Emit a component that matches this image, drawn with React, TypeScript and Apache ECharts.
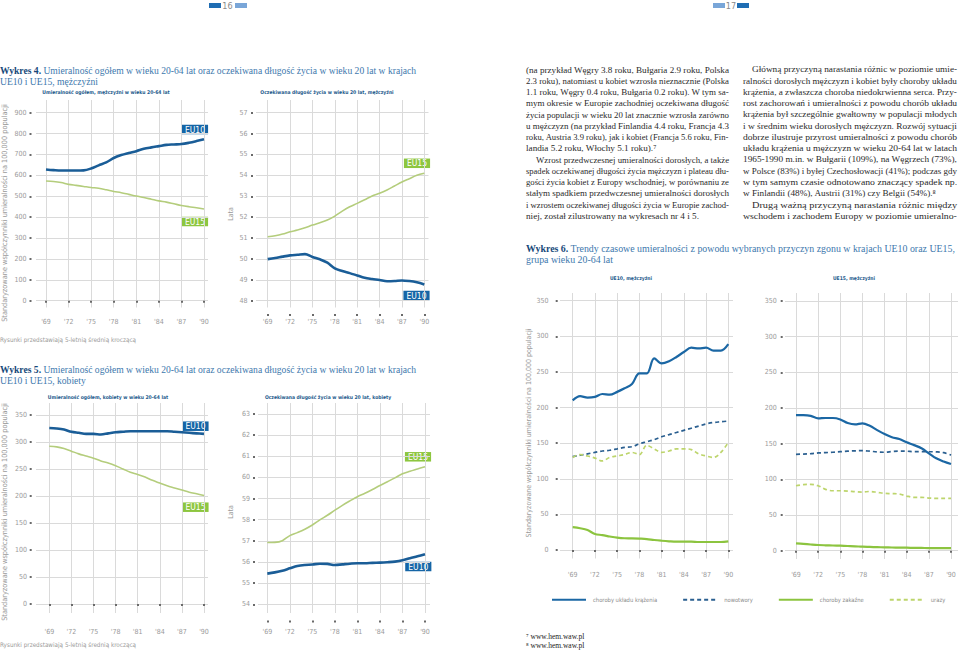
import React, { useEffect, useRef } from "react";
import * as echarts from "echarts";

// ---------- DATA ----------
const years = [1969, 1970, 1971, 1972, 1973, 1974, 1975, 1976, 1977, 1978, 1979, 1980, 1981, 1982, 1983, 1984, 1985, 1986, 1987, 1988, 1989, 1990];
const xTickYears = [1969, 1972, 1975, 1978, 1981, 1984, 1987, 1990];

// Wykres 4 – mężczyźni
const menMortEU10 = [628, 625, 623, 623, 623, 624, 633, 648, 662, 683, 697, 707, 716, 727, 734, 740, 746, 748, 750, 756, 764, 773];
const menMortEU15 = [573, 571, 566, 557, 552, 547, 542, 538, 531, 523, 517, 509, 501, 494, 486, 478, 472, 464, 456, 450, 445, 439];
const menLifeEU15 = [51.06, 51.11, 51.19, 51.3, 51.38, 51.49, 51.62, 51.73, 51.86, 52.05, 52.29, 52.5, 52.66, 52.83, 53.01, 53.14, 53.3, 53.49, 53.68, 53.84, 54.0, 54.1];
const menLifeEU10 = [49.99, 50.04, 50.11, 50.17, 50.2, 50.23, 50.09, 49.98, 49.82, 49.55, 49.42, 49.32, 49.21, 49.1, 49.04, 48.99, 48.93, 48.94, 48.97, 48.94, 48.88, 48.78];

// Wykres 5 – kobiety
const womenMortEU10 = [326, 325, 323, 319, 317, 315, 315, 314, 316, 318, 319, 320, 320, 320, 320, 320, 320, 319, 318, 317, 316, 315];
const womenMortEU15 = [292, 291, 288, 283, 278, 274, 270, 265, 261, 256, 250, 244, 240, 235, 229, 224, 219, 215, 211, 207, 204, 201];
const womenLifeEU15 = [56.92, 56.93, 57.01, 57.25, 57.39, 57.55, 57.75, 57.99, 58.21, 58.45, 58.68, 58.89, 59.09, 59.25, 59.43, 59.62, 59.8, 59.98, 60.17, 60.29, 60.4, 60.51];
const womenLifeEU10 = [55.45, 55.51, 55.59, 55.7, 55.81, 55.86, 55.88, 55.92, 55.91, 55.86, 55.89, 55.92, 55.94, 55.94, 55.96, 55.97, 55.99, 56.02, 56.08, 56.18, 56.27, 56.37];

// Wykres 6 – przyczyny zgonu
const eu10Circ = [210, 216, 214, 215, 219, 218, 222, 227, 233, 248, 248, 269, 262, 265, 271, 278, 284, 283, 284, 280, 280, 289];
const eu10Neo = [131, 133, 135, 137, 139, 140, 142, 144, 145, 149, 152, 155, 159, 162, 165, 168, 171, 174, 177, 179, 180, 181];
const eu10Inf = [32, 30.5, 28, 22.5, 21, 19, 17.3, 16.5, 16.4, 16, 15.4, 14, 13, 12.2, 11.7, 11.7, 11.7, 11.2, 11.2, 11.2, 11.2, 12.2];
const eu10Inj = [130, 134, 132, 129, 125, 130, 132, 134, 137, 134, 147, 142, 137, 139, 142, 142, 141, 135, 132, 130, 137, 151];
const eu15Circ = [190, 190, 189, 185.5, 186, 186, 184, 179, 177, 178.5, 175, 169, 163.5, 159, 156.5, 152, 148, 143.5, 136.5, 129.5, 125, 121.5];
const eu15Neo = [135, 135.5, 136, 137, 137.5, 138, 138.8, 139.5, 140, 140.2, 139.5, 138.5, 138, 139, 139.7, 139.5, 138.8, 139, 138.8, 138.5, 137.4, 134];
const eu15Inf = [10.3, 9.5, 8.7, 8, 7.6, 7.3, 7, 6.6, 6.2, 5.6, 5.3, 5, 4.7, 4.5, 4.4, 4.2, 4, 3.9, 3.7, 3.7, 3.7, 3.7];
const eu15Inj = [91, 92.5, 93, 91, 86, 84, 84, 83.6, 82.7, 82.2, 83, 81.8, 80.4, 80, 79.4, 76.6, 74.8, 74.8, 73.8, 73.4, 73.4, 73.4];

const mortTicksMen = [0, 100, 200, 300, 400, 500, 600, 700, 800, 900];
const lifeTicksMen = [48, 49, 50, 51, 52, 53, 54, 55, 56, 57];
const mortTicksWomen = [0, 50, 100, 150, 200, 250, 300, 350];
const lifeTicksWomen = [54, 55, 56, 57, 58, 59, 60, 61, 62, 63];
const causeTicks = [0, 50, 100, 150, 200, 250, 300, 350];

const causeNames = ["choroby układu krążenia", "nowotwory", "choroby zakaźne", "urazy"];

// ---------- STYLE ----------
const CF = "'Liberation Sans Narrow','DejaVu Sans Condensed','Liberation Sans',sans-serif";
const SF = "'Liberation Serif','DejaVu Serif',serif";
const BLUE = "#1a5d97";
const GREEN_LIGHT = "#b4cd7c";
const BOX_BLUE = "#1565a6";
const BOX_GREEN = "#8dc63f";
const C_CIRC = "#1b67a4";
const C_NEO = "#2a5f90";
const C_INF = "#8cc43f";
const C_INJ = "#bdd56c";
const GRID = "#dadada";
const LABEL = "#9a9a9a";
const BODY_FS = 9.2;

// layouts (pixel geometry of each panel)
const layouts = [
  { x0: 46, x1: 204, left: 36, right: 208, yv0: 0, yp0: 300.7, yv1: 900, yp1: 112.7, top: 100, bottom: 307.5, dotX: 30.5, labelRight: 26.5, dotY: 315, labelY: 322, ticks: mortTicksMen },
  { x0: 267.7, x1: 424.3, left: 256, right: 428.5, yv0: 48, yp0: 300.7, yv1: 57, yp1: 112.7, top: 100, bottom: 307.5, dotX: 252, labelRight: 247.5, dotY: 315, labelY: 322, ticks: lifeTicksMen },
  { x0: 49.3, x1: 204, left: 36, right: 208, yv0: 0, yp0: 604, yv1: 350, yp1: 415, top: 403, bottom: 613, dotX: 30.7, labelRight: 27, dotY: 621.5, labelY: 631.5, ticks: mortTicksWomen },
  { x0: 267.3, x1: 425, left: 258, right: 430, yv0: 54, yp0: 604.3, yv1: 63, yp1: 414, top: 403, bottom: 613, dotX: 254, labelRight: 250, dotY: 621.5, labelY: 631.5, ticks: lifeTicksWomen },
  { x0: 572.7, x1: 728.3, left: 560, right: 733, yv0: 0, yp0: 550, yv1: 350, yp1: 300.7, top: 293, bottom: 558.5, dotX: 556.7, labelRight: 548.5, dotY: 567.3, labelY: 575, ticks: causeTicks },
  { x0: 796, x1: 951, left: 785, right: 958, yv0: 0, yp0: 550.7, yv1: 350, yp1: 301, top: 293, bottom: 559, dotX: 781.7, labelRight: 776.7, dotY: 567.3, labelY: 575, ticks: causeTicks },
];

const panelSeries = [
  [
    { name: "EU10 m", data: menMortEU10, color: BLUE, width: 2.6, type: "solid" },
    { name: "EU15 m", data: menMortEU15, color: GREEN_LIGHT, width: 1.6, type: "solid" },
  ],
  [
    { name: "EU15 e", data: menLifeEU15, color: GREEN_LIGHT, width: 1.6, type: "solid" },
    { name: "EU10 e", data: menLifeEU10, color: BLUE, width: 2.6, type: "solid" },
  ],
  [
    { name: "EU10 k", data: womenMortEU10, color: BLUE, width: 2.6, type: "solid" },
    { name: "EU15 k", data: womenMortEU15, color: GREEN_LIGHT, width: 1.6, type: "solid" },
  ],
  [
    { name: "EU15 ke", data: womenLifeEU15, color: GREEN_LIGHT, width: 1.6, type: "solid" },
    { name: "EU10 ke", data: womenLifeEU10, color: BLUE, width: 2.6, type: "solid" },
  ],
  [
    { name: causeNames[0], data: eu10Circ, color: C_CIRC, width: 2.2, type: "solid" },
    { name: causeNames[1], data: eu10Neo, color: C_NEO, width: 1.7, type: [4, 3] },
    { name: causeNames[2], data: eu10Inf, color: C_INF, width: 2.2, type: "solid" },
    { name: causeNames[3], data: eu10Inj, color: C_INJ, width: 1.7, type: [4, 3] },
  ],
  [
    { name: causeNames[0], data: eu15Circ, color: C_CIRC, width: 2.2, type: "solid" },
    { name: causeNames[1], data: eu15Neo, color: C_NEO, width: 1.7, type: [4, 3] },
    { name: causeNames[2], data: eu15Inf, color: C_INF, width: 2.2, type: "solid" },
    { name: causeNames[3], data: eu15Inj, color: C_INJ, width: 1.7, type: [4, 3] },
  ],
];

// i: first-line indent, e: last line of a paragraph (not justified)
const leftParagraph = [
  { t: "(na przykład Węgry 3.8 roku, Bułgaria 2.9 roku, Polska", i: 0, e: 0 },
  { t: "2.3 roku), natomiast u kobiet wzrosła nieznacznie (Polska", i: 0, e: 0 },
  { t: "1.1 roku, Węgry 0.4 roku, Bułgaria 0.2 roku). W tym sa-", i: 0, e: 0 },
  { t: "mym okresie w Europie zachodniej oczekiwana długość", i: 0, e: 0 },
  { t: "życia populacji w wieku 20 lat znacznie wzrosła zarówno", i: 0, e: 0 },
  { t: "u mężczyzn (na przykład Finlandia 4.4 roku, Francja 4.3", i: 0, e: 0 },
  { t: "roku, Austria 3.9 roku), jak i kobiet (Francja 5.6 roku, Fin-", i: 0, e: 0 },
  { t: "landia 5.2 roku, Włochy 5.1 roku).⁷", i: 0, e: 1 },
  { t: "Wzrost przedwczesnej umieralności dorosłych, a także", i: 1, e: 0 },
  { t: "spadek oczekiwanej długości życia mężczyzn i plateau dłu-", i: 0, e: 0 },
  { t: "gości życia kobiet z Europy wschodniej, w porównaniu ze", i: 0, e: 0 },
  { t: "stałym spadkiem przedwczesnej umieralności dorosłych", i: 0, e: 0 },
  { t: "i wzrostem oczekiwanej długości życia w Europie zachod-", i: 0, e: 0 },
  { t: "niej, został zilustrowany na wykresach nr 4 i 5.", i: 0, e: 1 },
];
const rightParagraph = [
  { t: "Główną przyczyną narastania różnic w poziomie umie-", i: 1, e: 0 },
  { t: "ralności dorosłych mężczyzn i kobiet były choroby układu", i: 0, e: 0 },
  { t: "krążenia, a zwłaszcza choroba niedokrwienna serca. Przy-", i: 0, e: 0 },
  { t: "rost zachorowań i umieralności z powodu chorób układu", i: 0, e: 0 },
  { t: "krążenia był szczególnie gwałtowny w populacji młodych", i: 0, e: 0 },
  { t: "i w średnim wieku dorosłych mężczyzn. Rozwój sytuacji", i: 0, e: 0 },
  { t: "dobrze ilustruje przyrost umieralności z powodu chorób", i: 0, e: 0 },
  { t: "układu krążenia u mężczyzn w wieku 20-64 lat w latach", i: 0, e: 0 },
  { t: "1965-1990 m.in. w Bułgarii (109%), na Węgrzech (73%),", i: 0, e: 0 },
  { t: "w Polsce (83%) i byłej Czechosłowacji (41%); podczas gdy", i: 0, e: 0 },
  { t: "w tym samym czasie odnotowano znaczący spadek np.", i: 0, e: 0 },
  { t: "w Finlandii (48%), Austrii (31%) czy Belgii (54%).⁸", i: 0, e: 1 },
  { t: "Drugą ważną przyczyną narastania różnic między", i: 1, e: 0 },
  { t: "wschodem i zachodem Europy w poziomie umieralno-", i: 0, e: 0 },
];

let measureCtx: CanvasRenderingContext2D | null = null;
function measure(text: string, fs: number, family: string): number {
  if (!measureCtx) measureCtx = document.createElement("canvas").getContext("2d");
  if (!measureCtx) return 0;
  measureCtx.font = `${fs}px ${family}`;
  return measureCtx.measureText(text).width;
}

function txt(x: number, y: number, text: string, style: any = {}, extra: any = {}) {
  return {
    type: "text",
    x,
    y,
    silent: true,
    ...extra,
    style: { text, fill: "#333", fontSize: 9, fontFamily: SF, align: "left", verticalAlign: "middle", ...style },
  };
}

function box(cx: number, cy: number, label: string, color: string) {
  return txt(cx, cy, label, {
    fill: "#fff",
    fontFamily: CF,
    fontSize: 8.5,
    align: "center",
    verticalAlign: "middle",
    backgroundColor: color,
    padding: [1, 3, 0, 3],
    lineHeight: 8.5,
  });
}

function paragraphLines(lines: { t: string; i: number; e: number }[], colLeft: number, colRight: number, indent: number, top: number, pitch: number) {
  return lines.map((l, k) => {
    const x = colLeft + (l.i ? indent : 0);
    let sx = 1;
    const natural = measure(l.t, BODY_FS, SF);
    const target = colRight - x;
    if (natural > 0) {
      if (!l.e) sx = target / natural;
      else if (natural > target) sx = target / natural;
    }
    return txt(x, top + k * pitch, l.t, { fill: "#2a2a2a", fontSize: BODY_FS }, { scaleX: sx });
  });
}

function buildOption() {
  const grid: any[] = [];
  const xAxis: any[] = [];
  const yAxis: any[] = [];
  const series: any[] = [];

  layouts.forEach((L, i) => {
    const ppy = (L.x1 - L.x0) / (1990 - 1969);
    const xmin = 1969 - (L.x0 - L.left) / ppy;
    const xmax = 1990 + (L.right - L.x1) / ppy;
    const ppu = (L.yp0 - L.yp1) / (L.yv1 - L.yv0);
    const ymin = L.yv0 - (L.bottom - L.yp0) / ppu;
    const ymax = L.yv1 + (L.yp1 - L.top) / ppu;
    grid.push({ left: L.left, top: L.top, width: L.right - L.left, height: L.bottom - L.top, containLabel: false, outerBoundsMode: "none" });
    const fs = 7;
    xAxis.push({
      type: "value",
      gridIndex: i,
      min: xmin,
      max: xmax,
      offset: L.dotY - 1 - L.bottom,
      axisLine: { show: false },
      axisTick: { show: true, length: 2, customValues: xTickYears, lineStyle: { color: "#6a6a6a", width: 2 } },
      axisLabel: {
        customValues: xTickYears,
        formatter: (v: number) => "'" + String(Math.round(v)).slice(2),
        color: LABEL,
        fontSize: fs,
        fontFamily: CF,
        margin: L.labelY - fs / 2 - (L.dotY - 1),
      },
      splitLine: { show: true, lineStyle: { color: GRID, width: 1 } },
    });
    yAxis.push({
      type: "value",
      gridIndex: i,
      min: ymin,
      max: ymax,
      offset: L.left - L.dotX - 1,
      axisLine: { show: false },
      axisTick: { show: true, length: 2, customValues: L.ticks, lineStyle: { color: "#6a6a6a", width: 2 } },
      axisLabel: {
        customValues: L.ticks,
        color: LABEL,
        fontSize: fs,
        fontFamily: CF,
        margin: L.dotX + 1 - L.labelRight,
      },
      splitLine: { show: true, lineStyle: { color: GRID, width: 1 } },
    });
    panelSeries[i].forEach((s) => {
      series.push({
        type: "line",
        name: s.name,
        xAxisIndex: i,
        yAxisIndex: i,
        data: years.map((y, k) => [y, s.data[k]]),
        showSymbol: false,
        symbol: "none",
        smooth: 0.35,
        color: s.color,
        itemStyle: { color: s.color },
        lineStyle: { color: s.color, width: s.width, type: s.type },
        silent: true,
      });
    });
  });

  const rich = (fs: number) => ({
    b: { fontWeight: "bold", fill: "#17497a", color: "#17497a", fontSize: fs, fontFamily: SF },
    n: { fill: "#3d78ad", color: "#3d78ad", fontSize: fs, fontFamily: SF },
  });
  const titleTxt = (x: number, y: number, text: string, fs: number) =>
    txt(x, y, text, { rich: rich(fs), fontSize: fs });

  const sub = (cx: number, y: number, text: string) =>
    txt(cx, y, text, { fill: "#1d5a8c", fontFamily: CF, fontSize: 5, fontWeight: "bold", align: "center" });
  const grey = (x: number, y: number, text: string, extra: any = {}, st: any = {}) =>
    txt(x, y, text, { fill: LABEL, fontFamily: CF, fontSize: 7, ...st }, extra);

  const graphic: any[] = [
    // header
    { type: "rect", shape: { x: 209, y: 3, width: 12, height: 5 }, style: { fill: "#1f6db3" }, silent: true },
    txt(227.5, 5.5, "16", { fill: "#8a8a8a", fontFamily: CF, fontSize: 9, align: "center" }),
    { type: "rect", shape: { x: 235, y: 3, width: 12, height: 5 }, style: { fill: "#79a6d8" }, silent: true },
    { type: "rect", shape: { x: 713, y: 3, width: 12, height: 5 }, style: { fill: "#79a6d8" }, silent: true },
    txt(731, 5.5, "17", { fill: "#8a8a8a", fontFamily: CF, fontSize: 9, align: "center" }),
    { type: "rect", shape: { x: 737, y: 3, width: 12, height: 5 }, style: { fill: "#1f6db3" }, silent: true },

    // Wykres 4
    titleTxt(0, 70, "{b|Wykres 4.}{n| Umieralność ogółem w wieku 20-64 lat oraz oczekiwana długość życia w wieku 20 lat w krajach}", 9.6),
    titleTxt(0, 81.5, "{n|UE10 i UE15, mężczyźni}", 9.6),
    sub(106, 92, "Umieralność ogółem, mężczyźni w wieku 20-64 lat"),
    sub(327, 92, "Oczekiwana długość życia w wieku 20 lat, mężczyźni"),
    grey(4, 213, "Standaryzowane współczynniki umieralności na 100,000 populacji", { rotation: Math.PI / 2 }, { align: "center", fontSize: 7.3 }),
    grey(231, 214, "Lata", { rotation: Math.PI / 2 }, { align: "center" }),
    grey(0, 339.5, "Rysunki przedstawiają 5-letnią średnią kroczącą", {}, { fontSize: 6.3 }),
    box(195, 129.5, "EU10", BOX_BLUE),
    box(195, 221.5, "EU15", BOX_GREEN),
    box(417, 163.3, "EU15", BOX_GREEN),
    box(416.5, 295.5, "EU10", BOX_BLUE),

    // Wykres 5
    titleTxt(0, 369, "{b|Wykres 5.}{n| Umieralność ogółem w wieku 20-64 lat oraz oczekiwana długość życia w wieku 20 lat w krajach}", 9.6),
    titleTxt(0, 380.5, "{n|UE10 i UE15, kobiety}", 9.6),
    sub(108, 397, "Umieralność ogółem, kobiety w wieku 20-64 lat"),
    sub(328, 397, "Oczekiwana długość życia w wieku 20 lat, kobiety"),
    grey(4, 512, "Standaryzowane współczynniki umieralności na 100,000 populacji", { rotation: Math.PI / 2 }, { align: "center", fontSize: 7.3 }),
    grey(231, 512, "Lata", { rotation: Math.PI / 2 }, { align: "center" }),
    grey(0, 644.5, "Rysunki przedstawiają 5-letnią średnią kroczącą", {}, { fontSize: 6.3 }),
    box(195.5, 426.2, "EU10", BOX_BLUE),
    box(195.5, 507.2, "EU15", BOX_GREEN),
    box(418, 456.8, "EU15", BOX_GREEN),
    box(418.3, 566.5, "EU10", BOX_BLUE),

    // Wykres 6
    titleTxt(526, 248, "{b|Wykres 6.}{n| Trendy czasowe umieralności z powodu wybranych przyczyn zgonu w krajach UE10 oraz UE15,}", 9.9),
    titleTxt(526, 259.5, "{n|grupa wieku 20-64 lat}", 9.9),
    sub(631, 278, "UE10, mężczyźni"),
    sub(854, 278, "UE15, mężczyźni"),
    grey(528.5, 433, "Standaryzowane współczynniki umieralności na 100,000 populacji", { rotation: Math.PI / 2 }, { align: "center" }),

    // footnotes
    txt(526, 636, "⁷ www.hem.waw.pl", { fontSize: 7.5, fill: "#222" }),
    txt(526, 645, "⁸ www.hem.waw.pl", { fontSize: 7.5, fill: "#222" }),
  ];

  graphic.push(...paragraphLines(leftParagraph, 526, 729, 10, 69.5, 11.25));
  graphic.push(...paragraphLines(rightParagraph, 743, 957, 9, 69.5, 11.25));

  return {
    animation: false,
    backgroundColor: "#ffffff",
    grid,
    xAxis,
    yAxis,
    series,
    legend: {
      data: causeNames,
      left: 551,
      top: 595.7,
      width: 409,
      itemWidth: 34,
      itemHeight: 10,
      itemGap: 25,
      padding: 0,
      selectedMode: false,
      itemStyle: { opacity: 0 },
      textStyle: { color: "#8a8a8a", fontSize: 5.8, fontFamily: CF, padding: [0, 0, 0, 2] },
    },
    graphic,
  };
}

export default function App() {
  const ref = useRef<HTMLDivElement>(null);
  useEffect(() => {
    if (!ref.current) return;
    const chart = echarts.init(ref.current, undefined, { renderer: "svg" });
    chart.setOption(buildOption() as any);
    return () => chart.dispose();
  }, []);
  return <div ref={ref} style={{ position: "fixed", left: 0, top: 0, width: 960, height: 651, background: "#fff" }} />;
}
